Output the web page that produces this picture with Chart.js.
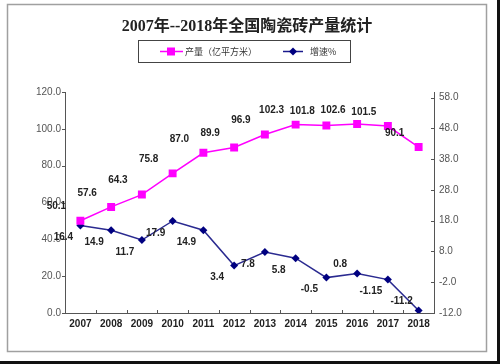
<!DOCTYPE html>
<html>
<head>
<meta charset="utf-8">
<script src="https://cdn.jsdelivr.net/npm/chart.js@4"></script>
<style>
  body { margin: 0; background: #fff; }
  canvas { display: block; }
</style>
</head>
<body>
<canvas id="myChart" width="500" height="364"></canvas>
<script>
// Данные графика
var years = ["2007", "2008", "2009", "2010", "2011", "2012", "2013", "2014", "2015", "2016", "2017", "2018"];
var output = [50.1, 57.6, 64.3, 75.8, 87.0, 89.9, 96.9, 102.3, 101.8, 102.6, 101.5, 90.1];
var growth = [16.4, 14.9, 11.7, 17.9, 14.9, 3.4, 7.8, 5.8, -0.5, 0.8, -1.15, -11.2];
var growthText = ["16.4", "14.9", "11.7", "17.9", "14.9", "3.4", "7.8", "5.8", "-0.5", "0.8", "-1.15", "-11.2"];
var leftTicks = [0, 20, 40, 60, 80, 100, 120];
var rightTicks = [-12, -2, 8, 18, 28, 38, 48, 58];
var titleText = "2007年--2018年全国陶瓷砖产量统计";
var outputName = "产量（亿平方米）";
var growthName = "增速%";

var labelFont = "bold 10px 'Liberation Sans', Arial, sans-serif";
var cjkFont = "'Noto Sans CJK SC', sans-serif";

// рамка, заголовок, легенда
var decor = {
  id: "decor",
  beforeDraw: function (chart) {
    var c = chart.ctx;
    c.save();
    c.fillStyle = "#fff";
    c.fillRect(0, 0, 500, 364);
    c.strokeStyle = "#a0a0a0";
    c.lineWidth = 1.5;
    c.strokeRect(7.5, 4.5, 479, 347);
    c.fillStyle = "#111";
    c.fillRect(497, 0, 3, 364);
    c.fillRect(0, 361, 500, 3);

    c.fillStyle = "#222";
    c.textAlign = "center";
    c.textBaseline = "middle";
    c.font = "bold 16px 'Liberation Serif', " + cjkFont;
    c.fillText(titleText, 247, 27);

    // легенда
    c.strokeStyle = "#444";
    c.lineWidth = 1;
    c.strokeRect(138.5, 40.5, 212, 22);
    c.lineWidth = 1.5;
    c.strokeStyle = "#ff00ff";
    c.beginPath(); c.moveTo(160, 51.5); c.lineTo(183, 51.5); c.stroke();
    c.fillStyle = "#ff00ff";
    c.fillRect(167, 47.5, 8, 8);
    c.strokeStyle = "#1a1a8c";
    c.beginPath(); c.moveTo(283, 51.5); c.lineTo(303, 51.5); c.stroke();
    c.fillStyle = "#000080";
    c.beginPath();
    c.moveTo(293, 47.5); c.lineTo(297, 51.5); c.lineTo(293, 55.5); c.lineTo(289, 51.5);
    c.closePath(); c.fill();
    c.fillStyle = "#333";
    c.textAlign = "left";
    c.font = "9px " + cjkFont;
    c.fillText(outputName, 185, 51.5);
    c.fillText(growthName, 310, 51.5);
    c.restore();
  },
  afterDraw: function (chart) {
    var c = chart.ctx;
    var x = chart.scales.x, y = chart.scales.y, y1 = chart.scales.y1;
    var area = chart.chartArea;
    c.save();
    // засечки осей
    c.strokeStyle = "#555";
    c.lineWidth = 1;
    var step = (area.right - area.left) / years.length;
    c.beginPath();
    for (var i = 1; i < years.length; i++) {
      var tx = Math.round(area.left + step * i) + 0.5;
      c.moveTo(tx, area.bottom); c.lineTo(tx, area.bottom - 3);
    }
    leftTicks.forEach(function (v) {
      var ty = Math.round(y.getPixelForValue(v)) + 0.5;
      c.moveTo(area.left, ty); c.lineTo(area.left - 3, ty);
    });
    rightTicks.forEach(function (v) {
      var ty = Math.round(y1.getPixelForValue(v)) + 0.5;
      c.moveTo(area.right, ty); c.lineTo(area.right - 3, ty);
    });
    c.stroke();

    // подписи значений
    c.fillStyle = "#222";
    c.font = labelFont;
    c.textAlign = "center";
    c.textBaseline = "middle";
    output.forEach(function (v, i) {
      c.fillText(v.toFixed(1), x.getPixelForValue(i) - 24, y.getPixelForValue(v) - 14);
    });
    growth.forEach(function (v, i) {
      var above = (i === 9 || i === 11);
      c.fillText(growthText[i], x.getPixelForValue(i) - 17, y1.getPixelForValue(v) + (above ? -9 : 12));
    });
    c.restore();
  }
};

var tickFont = { family: "'Liberation Sans', Arial, sans-serif", size: 10 };

var ctx = document.getElementById("myChart").getContext("2d");
var myChart = new Chart(ctx, {
  type: "line",
  data: {
    labels: years,
    datasets: [
      {
        label: outputName,
        data: output,
        yAxisID: "y",
        borderColor: "#ff00ff",
        backgroundColor: "#ff00ff",
        borderWidth: 1.5,
        pointStyle: "rect",
        pointRadius: 5.6,
        pointBorderWidth: 0,
        tension: 0,
      },
      {
        label: growthName,
        data: growth,
        yAxisID: "y1",
        borderColor: "#2a2a90",
        backgroundColor: "#000080",
        pointBackgroundColor: "#000080",
        borderWidth: 1.5,
        pointStyle: "rectRot",
        pointRadius: 4,
        pointBorderWidth: 0,
        tension: 0,
      },
    ],
  },
  options: {
    responsive: false,
    animation: false,
    events: [],
    layout: { padding: { top: 92, left: 0, right: 0, bottom: 0 } },
    plugins: { legend: { display: false }, title: { display: false }, tooltip: { enabled: false } },
    scales: {
      x: {
        offset: true,
        grid: { display: false, drawTicks: false },
        border: { display: true, color: "#555", width: 1 },
        ticks: { font: { family: tickFont.family, size: 10, weight: "bold" }, color: "#222", padding: 5, maxRotation: 0, autoSkip: false },
        afterFit: function (s) { s.height = 51; },
      },
      y: {
        position: "left",
        min: 0,
        max: 120,
        grid: { display: false, drawTicks: false },
        border: { display: true, color: "#555", width: 1 },
        afterBuildTicks: function (s) { s.ticks = leftTicks.map(function (v) { return { value: v }; }); },
        ticks: { font: tickFont, color: "#555", padding: 4, callback: function (v) { return v.toFixed(1); } },
        afterFit: function (s) { s.width = 65; },
      },
      y1: {
        position: "right",
        min: -12,
        max: 59.8,
        grid: { display: false, drawTicks: false },
        border: { display: true, color: "#555", width: 1 },
        afterBuildTicks: function (s) { s.ticks = rightTicks.map(function (v) { return { value: v }; }); },
        ticks: { font: tickFont, color: "#555", padding: 5, callback: function (v) { return v.toFixed(1); } },
        afterFit: function (s) { s.width = 66; },
      },
    },
  },
  plugins: [decor],
});
</script>
</body>
</html>
